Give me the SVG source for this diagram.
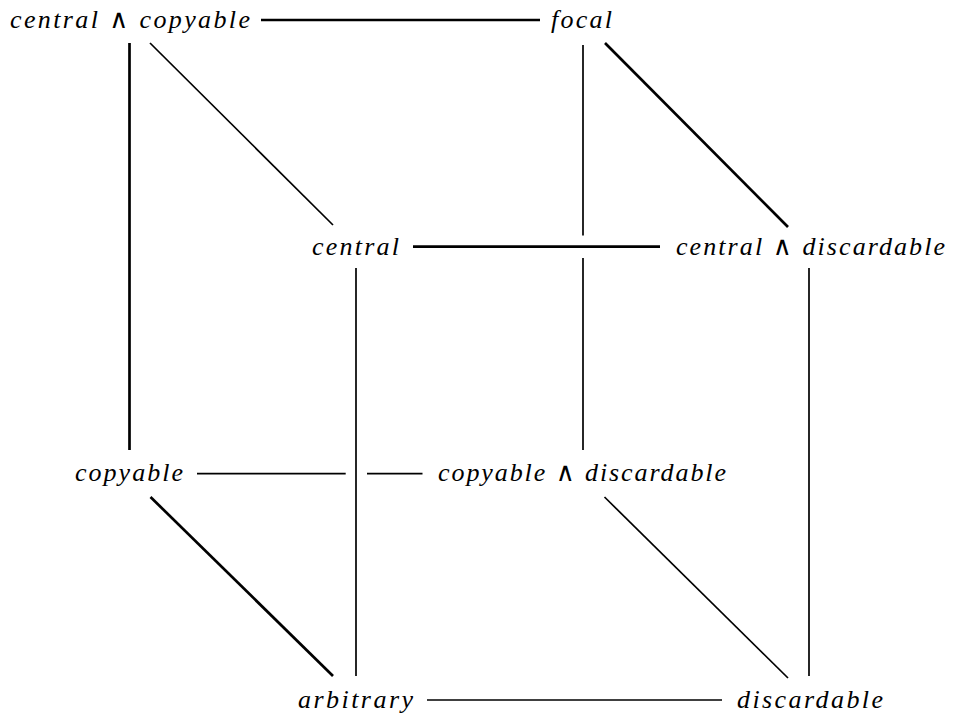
<svg xmlns="http://www.w3.org/2000/svg" width="957" height="721" viewBox="0 0 957 721">
<style>
.t{font-family:"Liberation Serif","DejaVu Serif",serif;font-style:italic;font-size:26px;fill:#000}
.thin{stroke:#000;stroke-width:1.7;fill:none}
.thick{stroke:#000;stroke-width:2.7;fill:none}
</style>
<rect width="957" height="721" fill="#fff"/>
<g id="connectors">
<line class="thick" x1="261" y1="20" x2="540" y2="20"/>
<line class="thick" x1="129.5" y1="43" x2="129.5" y2="450"/>
<line class="thin" x1="150" y1="43" x2="333" y2="225"/>
<line class="thin" x1="583" y1="45" x2="583" y2="235.5"/>
<line class="thin" x1="583" y1="258" x2="583" y2="450"/>
<line class="thick" x1="605" y1="43" x2="788" y2="227"/>
<line class="thick" x1="413" y1="246.7" x2="660" y2="246.7"/>
<line class="thin" x1="356" y1="268" x2="356" y2="676"/>
<line class="thin" x1="809" y1="268" x2="809" y2="676"/>
<line class="thin" x1="197" y1="473.7" x2="345.7" y2="473.7"/>
<line class="thin" x1="367" y1="473.7" x2="422.5" y2="473.7"/>
<line class="thick" x1="150.5" y1="497" x2="333" y2="676"/>
<line class="thin" x1="604.5" y1="497" x2="788" y2="678"/>
<line class="thin" x1="427" y1="700" x2="722" y2="700"/>
</g>
<g id="central_and_copyable"><text class="t" x="10" y="28" textLength="240" lengthAdjust="spacing">central ∧ copyable</text></g>
<g id="focal"><text class="t" x="551" y="28" textLength="61" lengthAdjust="spacing">focal</text></g>
<g id="central"><text class="t" x="312" y="255" textLength="87" lengthAdjust="spacing">central</text></g>
<g id="central_and_discardable"><text class="t" x="676" y="255" textLength="269" lengthAdjust="spacing">central ∧ discardable</text></g>
<g id="copyable"><text class="t" x="75" y="481" textLength="108" lengthAdjust="spacing">copyable</text></g>
<g id="copyable_and_discardable"><text class="t" x="438" y="481" textLength="288" lengthAdjust="spacing">copyable ∧ discardable</text></g>
<g id="arbitrary"><text class="t" x="298" y="708" textLength="115" lengthAdjust="spacing">arbitrary</text></g>
<g id="discardable"><text class="t" x="737" y="708" textLength="146" lengthAdjust="spacing">discardable</text></g>
</svg>
